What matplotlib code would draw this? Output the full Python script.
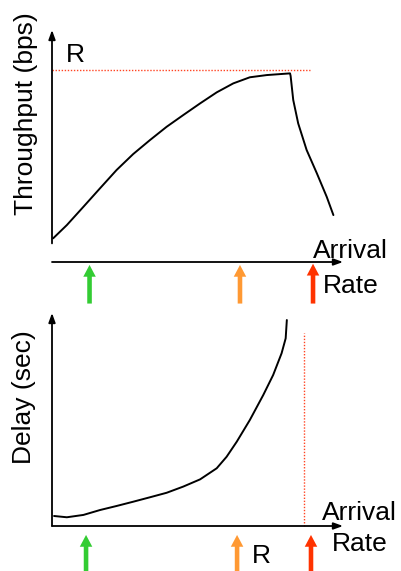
import matplotlib
matplotlib.use("Agg")
import matplotlib.pyplot as plt

plt.rcParams['font.family'] = ['Liberation Sans', 'DejaVu Sans']

# Throughput vs. arrival rate (arrival rate normalised to the axis length, throughput to R)
tput_rate = [0.004, 0.051, 0.108, 0.165, 0.222, 0.279, 0.337, 0.394, 0.451, 0.509,
             0.566, 0.623, 0.680, 0.738, 0.818, 0.820, 0.829, 0.846, 0.875, 0.910,
             0.944, 0.967]
tput_value = [0.010, 0.088, 0.196, 0.305, 0.413, 0.507, 0.590, 0.668, 0.737, 0.806,
              0.871, 0.924, 0.960, 0.973, 0.983, 0.968, 0.826, 0.688, 0.531, 0.394,
              0.255, 0.147]
capacity_R = 1.003

# Delay vs. arrival rate
delay_rate = [0.007, 0.051, 0.108, 0.165, 0.222, 0.279, 0.337, 0.394, 0.451, 0.509,
              0.566, 0.600, 0.635, 0.680, 0.726, 0.760, 0.789, 0.803, 0.807]
delay_value = [0.047, 0.041, 0.052, 0.075, 0.094, 0.114, 0.135, 0.156, 0.185, 0.219,
               0.271, 0.325, 0.396, 0.498, 0.615, 0.709, 0.811, 0.881, 0.967]
delay_limit_rate = 0.866
delay_limit_top = 0.906

# Operating points marked under each axis: low, near R, beyond R
marker_rates_top = [0.129, 0.646, 0.897]
marker_rates_bottom = [0.117, 0.636, 0.890]
marker_colors = ['#33cc33', '#ff9933', '#ff3300']

W, H = 401, 571
fig = plt.figure(figsize=(W / 100, H / 100), dpi=100)
fig.patch.set_facecolor('white')

ax1 = fig.add_axes([52 / W, 1 - 262 / H, 291 / W, 232 / H])
ax2 = fig.add_axes([52 / W, 1 - 526 / H, 291 / W, 213 / H])

ax1.set_xlim(0, 1)
ax1.set_ylim(-0.1298, 1.2389)
ax2.set_xlim(0, 1)
ax2.set_ylim(0, 1)
for ax in (ax1, ax2):
    ax.set_axis_off()

FS = 19
axis_arrow = dict(arrowstyle='-|>,head_length=0.55,head_width=0.2', lw=1.3,
                  color='black', shrinkA=0, shrinkB=0, mutation_scale=10)
marker_style = 'simple,head_length=0.85,head_width=0.9,tail_width=0.33'


def draw_axis(ax, start, end):
    ax.annotate('', xy=end, xytext=start, xycoords='data', textcoords='data',
                arrowprops=axis_arrow, annotation_clip=False)


def draw_marker(ax, x, tip, tail, color):
    ax.annotate('', xy=(x, tip), xytext=(x, tail), xycoords='data', textcoords='data',
                arrowprops=dict(arrowstyle=marker_style, color=color, lw=0,
                                shrinkA=0, shrinkB=0, mutation_scale=10),
                annotation_clip=False)


# ---- Throughput panel ----
y_base = ax1.get_ylim()[0]
draw_axis(ax1, (0, -0.02), (0, ax1.get_ylim()[1]))
draw_axis(ax1, (0, y_base), (1, y_base))
ax1.plot([0, 0.888], [capacity_R, capacity_R], color='#ff4422', lw=1.0,
         linestyle=(0, (1, 1.2)), clip_on=False)
ax1.plot(tput_rate, tput_value, color='black', lw=1.4, clip_on=False,
         solid_joinstyle='round', solid_capstyle='round')
ax1.text(0.079, 1.050, 'R', fontsize=FS, ha='center', va='baseline')
ax1.text(1.027, -0.106, 'Arrival', fontsize=FS, ha='center', va='baseline')
ax1.text(1.027, -0.313, 'Rate', fontsize=FS, ha='center', va='baseline')
ax1.text(-0.089, 0.743, 'Throughput (bps)', fontsize=FS, rotation=90,
         ha='center', va='center')
for x, c, tip in zip(marker_rates_top, marker_colors, [-0.147, -0.147, -0.14]):
    draw_marker(ax1, x, tip, -0.375, c)

# ---- Delay panel ----
draw_axis(ax2, (0, 0), (0, 1))
draw_axis(ax2, (0, 0), (1, 0))
ax2.plot([delay_limit_rate, delay_limit_rate], [0, delay_limit_top], color='#ff4422',
         lw=1.0, linestyle=(0, (1, 1.2)), clip_on=False)
ax2.plot(delay_rate, delay_value, color='black', lw=1.4, clip_on=False,
         solid_joinstyle='round', solid_capstyle='round')
ax2.text(0.718, -0.174, 'R', fontsize=FS, ha='center', va='baseline')
ax2.text(1.058, 0.028, 'Arrival', fontsize=FS, ha='center', va='baseline')
ax2.text(1.058, -0.117, 'Rate', fontsize=FS, ha='center', va='baseline')
ax2.text(-0.096, 0.606, 'Delay (sec)', fontsize=FS, rotation=90,
         ha='center', va='center')
for x, c in zip(marker_rates_bottom, marker_colors):
    draw_marker(ax2, x, -0.042, -0.24, c)

fig.savefig('out.png', dpi=100, facecolor='white')
